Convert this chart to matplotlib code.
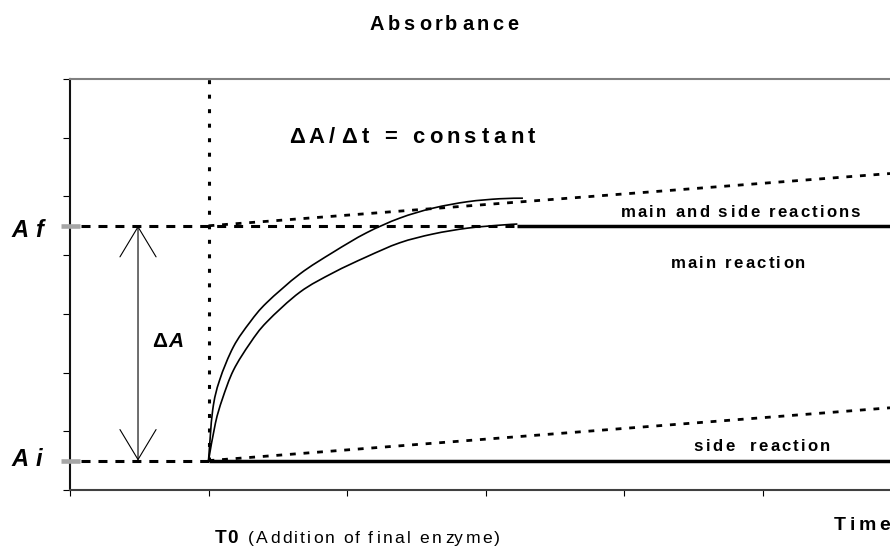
import numpy as np
import matplotlib
matplotlib.use('Agg')
import matplotlib.pyplot as plt
from matplotlib.path import Path
from matplotlib.patches import PathPatch
from matplotlib.font_manager import FontProperties, findfont
from matplotlib.ft2font import FT2Font

plt.rcParams['font.family'] = ['Liberation Sans', 'DejaVu Sans']

# absorbance levels and time axis
a_i = 0.5
a_f = 4.5
t0 = 1.0
t_end = 5.92

# main reaction only (lower curve)
main_t = [1.0, 1.05, 1.10, 1.18, 1.30, 1.42, 1.66, 1.90, 2.14, 2.38, 2.62, 2.87, 3.10, 3.23]
main_a = [0.5, 1.14, 1.55, 2.04, 2.50, 2.86, 3.37, 3.70, 3.97, 4.21, 4.36, 4.46, 4.51, 4.53]

# main and side reactions together (upper curve)
both_t = [1.0, 1.03, 1.08, 1.18, 1.30, 1.42, 1.66, 1.90, 2.14, 2.38, 2.62, 2.87, 3.10, 3.27]
both_a = [0.5, 1.36, 1.87, 2.44, 2.86, 3.19, 3.68, 4.05, 4.38, 4.63, 4.80, 4.91, 4.96, 4.97]

# linear drift caused by the side reaction
side_t = [1.0, 5.92]
side_a = [0.5, 1.40]
drift_t = [1.0, 5.92]
drift_a = [4.5, 5.39]


def smooth_path(xs, ys):
    # cubic segments through the points (Catmull-Rom), like a smoothed line
    pts = np.column_stack([xs, ys])
    n = len(pts)
    verts = [pts[0]]
    codes = [Path.MOVETO]
    for k in range(n - 1):
        p0 = pts[max(k - 1, 0)]
        p1 = pts[k]
        p2 = pts[k + 1]
        p3 = pts[min(k + 2, n - 1)]
        verts += [p1 + (p2 - p0) / 6, p2 - (p3 - p1) / 6, p2]
        codes += [Path.CURVE4] * 3
    return Path(verts, codes)


def spaced_text(ax, x, y, s, size, track=0.0, weight='bold', style='normal',
                ha='left', coords='data'):
    # no letter-spacing in matplotlib, so place the glyphs one at a time
    prop = FontProperties(family='Liberation Sans', size=size, weight=weight, style=style)
    font = FT2Font(findfont(prop), hinting_factor=1)
    font.set_size(size, 72)
    glyphs = [font.load_char(ord(c)) for c in s]
    adv = [g.linearHoriAdvance / 65536 for g in glyphs]
    total = sum(adv) + track * (len(s) - 1)
    pos = {'left': 0.0, 'center': -total / 2, 'right': -total}[ha]
    for c, g, a in zip(s, glyphs, adv):
        if c != ' ':
            ax.annotate(c, (x, y), xycoords=coords, xytext=(pos + g.horiBearingX / 64, 0),
                        textcoords='offset points', fontproperties=prop,
                        ha='left', va='baseline', annotation_clip=False)
        pos += a + track


fig = plt.figure(figsize=(8.9, 5.48), dpi=100)
ax = fig.add_axes([70 / 890, 58 / 548, 820 / 890, 411 / 548])
ax.set_xlim(0, t_end)
ax.set_ylim(0, 7)

ax.spines['right'].set_visible(False)
ax.spines['top'].set_color('#808080')
ax.spines['top'].set_linewidth(1.5)
ax.spines['left'].set_color('#111111')
ax.spines['left'].set_linewidth(1.5)
ax.spines['bottom'].set_color('#404040')
ax.spines['bottom'].set_linewidth(1.5)
ax.set_xticks(range(0, 6))
ax.set_yticks(range(0, 8))
ax.tick_params(axis='x', direction='out', length=4.3, width=0.8, labelbottom=False)
ax.tick_params(axis='y', direction='out', length=5, width=0.8, labelleft=False)

main_end = main_t[-1]

# reference levels
ax.plot([0.08, main_end], [a_f, a_f], color='black', lw=2.2, ls=(0, (2.95, 2.6)))
ax.plot([0.08, t0], [a_i, a_i], color='black', lw=2.2, ls=(0, (2.95, 2.6)))
ax.plot([t0, t0], [a_i, 7], color='black', lw=2.2, ls=(0, (1.3, 3.45)), clip_on=False)

# side reaction drift
ax.plot(drift_t, drift_a, color='black', lw=2.0, ls=(0, (2.1, 2.8)))
ax.plot(side_t, side_a, color='black', lw=2.0, ls=(0, (2.1, 2.8)))

# plateaus
ax.plot([main_end, t_end], [a_f, a_f], color='black', lw=2.5, solid_capstyle='butt')
ax.plot([t0, t_end], [a_i, a_i], color='black', lw=2.5, solid_capstyle='butt')

# kinetic curves
for xs, ys in ((both_t, both_a), (main_t, main_a)):
    ax.add_patch(PathPatch(smooth_path(xs, ys), fill=False, lw=1.2, ec='black'))

# grey markers on the y axis
for lvl in (a_i, a_f):
    ax.plot([-0.065, 0.072], [lvl, lvl], color='#a6a6a6', lw=3.3,
            solid_capstyle='butt', clip_on=False, zorder=5)

# delta A arrow
ax.annotate('', xy=(0.491, a_f), xytext=(0.491, a_i),
            arrowprops=dict(arrowstyle='<->,head_length=21.6,head_width=13',
                            mutation_scale=1, lw=0.8, color='black',
                            shrinkA=0, shrinkB=0))
ax.text(0.592, 2.441, 'Δ', fontsize=15, fontweight='bold', ha='left', va='baseline')
ax.text(0.708, 2.441, 'A', fontsize=15, fontweight='bold', style='italic',
        ha='left', va='baseline')

# labels
spaced_text(ax, 443 / 890, 518 / 548, 'Absorbance', 14.4, 2.75, coords='figure fraction',
            ha='center')
spaced_text(ax, 1.574, 5.911, 'ΔA/Δt = constant', 15.8, 3.2)
spaced_text(ax, 3.964, 4.656, 'main and side reactions', 12.1, 1.66)
spaced_text(ax, 4.325, 3.777, 'main reaction', 12.1, 1.6)
spaced_text(ax, 4.498, 0.664, 'side  reaction', 12.1, 1.55)
spaced_text(ax, -0.4116, 4.315, 'Af', 17, 4.0, style='italic')
spaced_text(ax, -0.4116, 0.414, 'Ai', 17, 4.0, style='italic')
spaced_text(ax, 5.502, -0.681, 'Time', 14, 2.76)
spaced_text(ax, 1.0325, -0.903, 'T0', 13.7, 0.5)
spaced_text(ax, 1.285, -0.903, '(Addition of final enzyme)', 12.6, 1.4, weight='normal')

fig.savefig('out.png', dpi=100)
